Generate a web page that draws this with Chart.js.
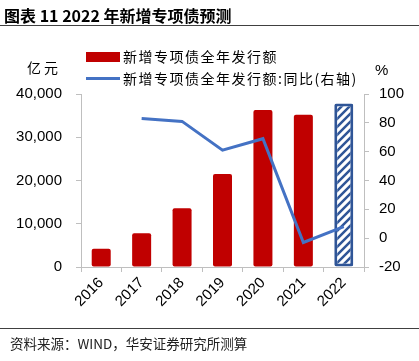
<!DOCTYPE html>
<html>
<head>
<meta charset="utf-8">
<script src="https://cdn.jsdelivr.net/npm/chart.js@4"></script>
<style>
  body { margin: 0; background: #fff; }
  #wrap { position: relative; width: 419px; height: 361px; overflow: hidden; font-family: "Noto Sans CJK SC", sans-serif; color: #000; }
  #chart { position: absolute; left: 0; top: 0; }
  .abs { position: absolute; white-space: nowrap; }
  .title { left: 4px; top: 4px; font-size: 16px; font-weight: bold; line-height: 22px; }
  .rule { left: 0; width: 419px; height: 0; border-top: 1.5px solid #404040; }
  .foot { left: 10px; top: 333px; font-size: 13.5px; line-height: 20px; color: #222; }
  .unit { font-size: 14px; line-height: 18px; }
  .lg { font-size: 14px; line-height: 18px; letter-spacing: 1.5px; }
</style>
</head>
<body>
<div id="wrap">
  <canvas id="chart" width="419" height="361"></canvas>
  <div class="abs title">图表 11 2022 年新增专项债预测</div>
  <div class="abs rule" style="top:25px"></div>
  <div class="abs unit" style="left:27px; top:58px; letter-spacing:3px;">亿元</div>
  <div class="abs unit" style="left:375px; top:61px; font-family:'Liberation Sans'; font-size:15px;">%</div>
  <div class="abs" style="left:86px; top:52px; width:34px; height:10px; background:#C00000;"></div>
  <div class="abs lg" style="left:123px; top:47px;">新增专项债全年发行额</div>
  <div class="abs" style="left:86px; top:76.5px; width:34px; height:3px; background:#4472C4;"></div>
  <div class="abs lg" style="left:123px; top:69px;">新增专项债全年发行额:同比(右轴)</div>
  <div class="abs rule" style="top:328px"></div>
  <div class="abs foot">资料来源：WIND，华安证券研究所测算</div>
</div>
<script>
const years = ['2016', '2017', '2018', '2019', '2020', '2021', '2022'];
const issuance = [4200, 7800, 13600, 21500, 36300, 35200, 37800];
const yoy = [null, 83, 81, 61, 69, -3, 8];
const leftTicks = [0, 10000, 20000, 30000, 40000];
const rightTicks = [-20, 0, 20, 40, 60, 80, 100];

const RED = '#C00000';
const BLUE = '#4472C4';
const DARKBLUE = '#2F5597';
const AXIS = '#BFBFBF';

// diagonal stripes for the 2022 forecast bar
function hatch() {
  const n = 8;
  const p = document.createElement('canvas');
  p.width = n; p.height = n;
  const g = p.getContext('2d');
  g.fillStyle = '#fff';
  g.fillRect(0, 0, n, n);
  g.strokeStyle = DARKBLUE;
  g.lineWidth = 2.5;
  g.beginPath();
  for (const o of [-n, 0, n]) {
    g.moveTo(o - 1, n + 1);
    g.lineTo(o + n + 1, -1);
  }
  g.stroke();
  return g.createPattern(p, 'repeat');
}

const ctx = document.getElementById('chart').getContext('2d');
const pat = hatch();
const last = years.length - 1;

const tickFont = { family: 'Liberation Sans', size: 15 };

new Chart(ctx, {
  data: {
    labels: years,
    datasets: [
      {
        type: 'line',
        label: '新增专项债全年发行额:同比(右轴)',
        data: yoy,
        yAxisID: 'yR',
        borderColor: BLUE,
        borderWidth: 3,
        pointRadius: 0,
        tension: 0,
        order: 0
      },
      {
        type: 'bar',
        label: '新增专项债全年发行额',
        data: issuance,
        yAxisID: 'yL',
        backgroundColor: issuance.map((_, i) => i === last ? pat : RED),
        borderColor: issuance.map((_, i) => i === last ? DARKBLUE : RED),
        borderWidth: issuance.map((_, i) => i === last ? 3 : 0),
        borderRadius: 2,
        borderSkipped: false,
        barPercentage: 0.47,
        categoryPercentage: 1,
        order: 1
      }
    ]
  },
  options: {
    responsive: false,
    animation: false,
    layout: { padding: { left: 0, right: 0, top: 94, bottom: 42 } },
    plugins: { legend: { display: false }, tooltip: { enabled: false } },
    scales: {
      x: {
        offset: true,
        grid: { drawOnChartArea: false, drawTicks: true, tickLength: 5, color: AXIS, offset: true },
        border: { color: AXIS },
        ticks: { color: '#000', font: tickFont, minRotation: 45, maxRotation: 45, padding: 2 },
        afterFit: s => { s.height = 52; }
      },
      yL: {
        position: 'left',
        min: 0, max: 40000,
        afterBuildTicks: s => { s.ticks = leftTicks.map(v => ({ value: v })); },
        grid: { drawOnChartArea: false, drawTicks: true, tickLength: 5, color: AXIS },
        border: { color: AXIS },
        ticks: { color: '#000', font: tickFont, padding: 14, callback: v => v.toLocaleString('en-US') },
        afterFit: s => { s.width = 81; }
      },
      yR: {
        position: 'right',
        min: -20, max: 100,
        afterBuildTicks: s => { s.ticks = rightTicks.map(v => ({ value: v })); },
        grid: { drawOnChartArea: false, drawTicks: true, tickLength: 5, color: AXIS },
        border: { color: AXIS },
        ticks: { color: '#000', font: tickFont, padding: 10 },
        afterFit: s => { s.width = 55; }
      }
    }
  }
});
</script>
</body>
</html>
